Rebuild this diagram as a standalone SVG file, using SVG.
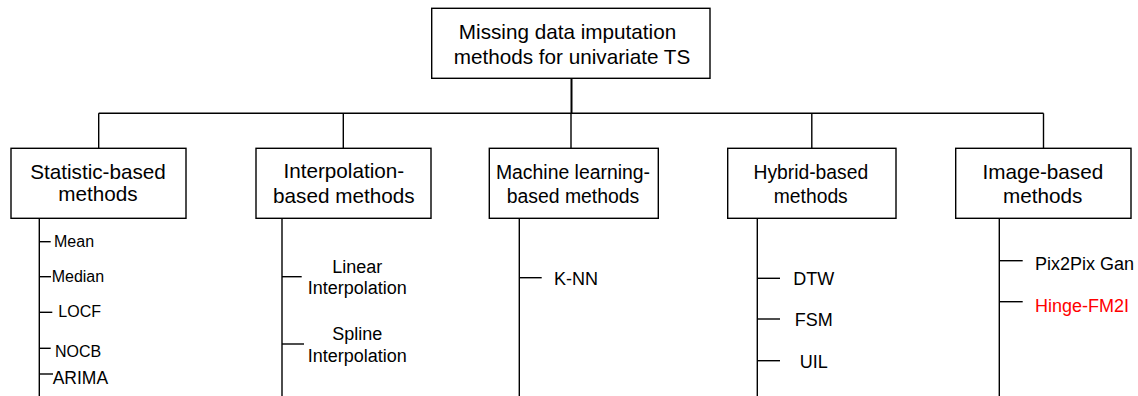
<svg xmlns="http://www.w3.org/2000/svg" width="1138" height="396" viewBox="0 0 1138 396">
<style>
.box{fill:#fff;stroke:#000;stroke-width:1.4}
.ln{stroke:#000;stroke-width:1.4;fill:none}
.t{font-family:"Liberation Sans",Arial,sans-serif;fill:#000}
.h{font-size:20.7px;text-anchor:middle}
.s{font-size:16px}
.m{font-size:18px}
.c{text-anchor:middle}
</style>
<rect width="1138" height="396" fill="#fff"/>
<g id="connectors">
<line class="ln" x1="571.5" y1="78" x2="571.5" y2="113.3" style="stroke-width:2"/>
<line class="ln" x1="98.7" y1="113.3" x2="1043.5" y2="113.3"/>
<line class="ln" x1="98.7" y1="113.3" x2="98.7" y2="148.3"/>
<line class="ln" x1="343.3" y1="113.3" x2="343.3" y2="148.3"/>
<line class="ln" x1="571" y1="113.3" x2="571" y2="148.3"/>
<line class="ln" x1="811.8" y1="113.3" x2="811.8" y2="148.3"/>
<line class="ln" x1="1043.5" y1="113.3" x2="1043.5" y2="148.3"/>
<line class="ln" x1="39.3" y1="218.3" x2="39.3" y2="396"/>
<line class="ln" x1="282" y1="218.3" x2="282" y2="396"/>
<line class="ln" x1="519.3" y1="218.3" x2="519.3" y2="396"/>
<line class="ln" x1="757.3" y1="218.3" x2="757.3" y2="396"/>
<line class="ln" x1="999.3" y1="218.3" x2="999.3" y2="396"/>
<line class="ln" x1="39.3" y1="241.7" x2="50.7" y2="241.7"/>
<line class="ln" x1="39.3" y1="276.7" x2="51" y2="276.7"/>
<line class="ln" x1="39.3" y1="312.3" x2="52.3" y2="312.3"/>
<line class="ln" x1="39.3" y1="348.3" x2="50.7" y2="348.3"/>
<line class="ln" x1="39.3" y1="374" x2="53" y2="374"/>
<line class="ln" x1="282" y1="276.7" x2="301.7" y2="276.7"/>
<line class="ln" x1="282" y1="344" x2="304" y2="344"/>
<line class="ln" x1="519.3" y1="277.7" x2="541.7" y2="277.7"/>
<line class="ln" x1="757.3" y1="278.3" x2="780" y2="278.3"/>
<line class="ln" x1="757.3" y1="319" x2="780" y2="319"/>
<line class="ln" x1="757.3" y1="360.7" x2="780" y2="360.7"/>
<line class="ln" x1="999.3" y1="260.7" x2="1022.7" y2="260.7"/>
<line class="ln" x1="999.3" y1="301.7" x2="1022.7" y2="301.7"/>
</g>
<g id="root">
<rect class="box" x="431.7" y="8.3" width="278.3" height="70"/>
<text class="t h" x="567.5" y="39">Missing data imputation</text>
<text class="t h" x="572" y="64">methods for univariate TS</text>
</g>
<g id="statistic">
<rect class="box" x="11" y="148.3" width="175" height="70"/>
<text class="t h" x="98" y="179">Statistic-based</text>
<text class="t h" x="98" y="201">methods</text>
</g>
<g id="interpolation">
<rect class="box" x="256" y="148.3" width="175" height="70"/>
<text class="t h" x="343.8" y="178.3">Interpolation-</text>
<text class="t h" x="343.8" y="203.3">based methods</text>
</g>
<g id="ml">
<rect class="box" x="489.3" y="148.3" width="169" height="70"/>
<text class="t h" x="573" y="179.3" style="font-size:19.4px">Machine learning-</text>
<text class="t h" x="573" y="202.7" style="font-size:19.4px">based methods</text>
</g>
<g id="hybrid">
<rect class="box" x="727.7" y="148.3" width="168.3" height="70"/>
<text class="t h" x="810.8" y="179.3" style="font-size:19.3px">Hybrid-based</text>
<text class="t h" x="810.8" y="202.7" style="font-size:19.3px">methods</text>
</g>
<g id="image">
<rect class="box" x="955.7" y="148.3" width="175.3" height="70"/>
<text class="t h" x="1042.8" y="179.3">Image-based</text>
<text class="t h" x="1042.8" y="203.3">methods</text>
</g>
<g id="statistic-items">
<text class="t s" x="54" y="247.3">Mean</text>
<text class="t s" x="51.7" y="281.7">Median</text>
<text class="t s" x="58.3" y="317.3">LOCF</text>
<text class="t s" x="55" y="356.7">NOCB</text>
<text class="t" x="52.7" y="384.3" style="font-size:17.5px">ARIMA</text>
</g>
<g id="interpolation-items">
<text class="t m c" x="357.3" y="272.7">Linear</text>
<text class="t m c" x="357.3" y="294.3">Interpolation</text>
<text class="t m c" x="357.3" y="340">Spline</text>
<text class="t m c" x="357.3" y="361.7">Interpolation</text>
</g>
<g id="ml-items">
<text class="t m" x="554" y="285">K-NN</text>
</g>
<g id="hybrid-items">
<text class="t m c" x="813.7" y="285">DTW</text>
<text class="t m c" x="813.7" y="326">FSM</text>
<text class="t m c" x="813.7" y="368.3">UIL</text>
</g>
<g id="image-items">
<text class="t m" x="1035" y="270">Pix2Pix Gan</text>
<text class="t m" x="1035" y="311.7" style="fill:#ff0000">Hinge-FM2I</text>
</g>
</svg>
